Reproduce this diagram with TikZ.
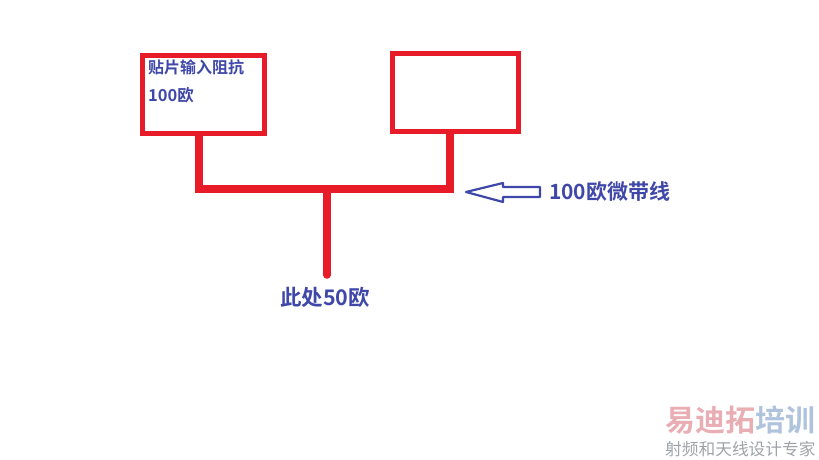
\documentclass[tikz,border=0pt]{standalone}
\usepackage{fontspec}
\setmainfont{Liberation Sans}
\newfontfamily\cjk{Noto Sans CJK SC}
\newfontfamily\cjkb{Noto Sans CJK SC Bold}
\definecolor{redline}{HTML}{E81C28}
\definecolor{bluetxt}{HTML}{3F48A8}
\definecolor{wmred}{HTML}{E8AEB4}
\definecolor{wmblue}{HTML}{AFC3DC}
\definecolor{wmgray}{HTML}{A0A4A8}
\tikzset{
  patchbox/.style={draw=redline,line width=5pt,fill=white,inner sep=0pt,anchor=center},
  trace/.style={draw=redline,line width=7.5pt},
  label/.style={inner sep=0pt,text=bluetxt,font=\cjkb,anchor=west},
}
\begin{document}
\begin{tikzpicture}[x=1pt,y=-1pt]
\useasboundingbox (0,0) rectangle (819,460);
\node[patchbox,minimum width=122pt,minimum height=77pt] (a) at (203.5,94.5) {};
\node[patchbox,minimum width=126pt,minimum height=78pt] (b) at (455.5,92.5) {};
\coordinate (j1) at (199,189);
\coordinate (j2) at (450,189);
\coordinate (j3) at (327,189);
\coordinate (stemend) at (327,275);
\draw[trace,line join=miter] (a.south -| j1) -- (j1) -- (j2) -- (b.south -| j2);
\draw[trace,line cap=round] (j3) -- (stemend);
\node[label,font=\cjkb\fontsize{16}{18}\selectfont] (t1) at (148,67) {贴片输入阻抗};
\node[label,font=\cjkb\fontsize{16.5}{18}\selectfont] (t2) at (148,95) {100欧};
\node[label,font=\cjkb\fontsize{21}{23}\selectfont] (t3) at (549,192) {100欧微带线};
\node[label,font=\cjkb\fontsize{21.5}{23}\selectfont] (t4) at (280,297) {此处50欧};
\draw[bluetxt,line width=2.2pt,line join=round] (466,192) -- (503,183) -- (503,187) -- (540,187) -- (540,197) -- (503,197) -- (503,202) -- cycle;
\node[inner sep=0pt,anchor=west,text=wmred,font=\cjkb\fontsize{30}{32}\selectfont] (w1) at (665,420) {易迪拓};
\node[inner sep=0pt,anchor=west,text=wmblue,font=\cjkb\fontsize{30}{32}\selectfont] (w2) at (755,420) {培训};
\node[inner sep=0pt,anchor=west,text=wmgray,font=\cjk\fontsize{16.7}{18}\selectfont] (w3) at (665,449) {射频和天线设计专家};
\end{tikzpicture}
\end{document}
